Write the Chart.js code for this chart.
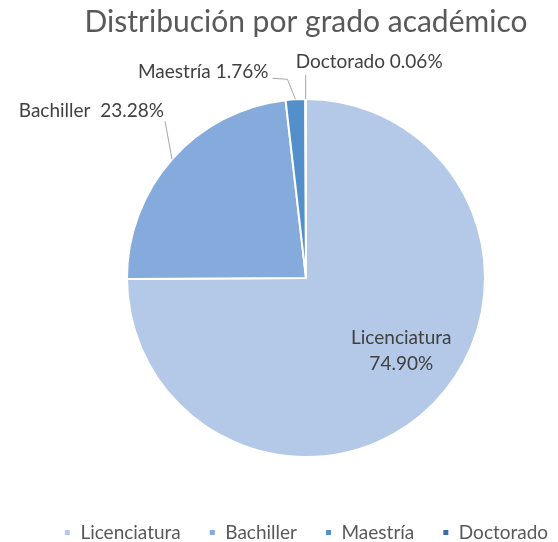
<!DOCTYPE html>
<html>
<head>
<meta charset="utf-8">
<script src="https://cdn.jsdelivr.net/npm/chart.js@4.4.1/dist/chart.umd.min.js"></script>
<style>
  html, body { margin: 0; padding: 0; background: #fff; overflow: hidden; }
  #wrap { width: 612px; height: 542px; }
</style>
</head>
<body>
<div id="wrap"><canvas id="gradoChart"></canvas></div>
<script>
// Datos del grafico
const categories = ['Licenciatura', 'Bachiller', 'Maestría', 'Doctorado'];
const percentages = [74.90, 23.28, 1.76, 0.06];
const sliceColors = ['#B4C8E7', '#84ABDB', '#5390CB', '#3A6EA8'];

const fontFamily = 'Lato, "Liberation Sans", sans-serif';

// Etiquetas de datos con lineas guia
const sliceLabels = {
    id: 'sliceLabels',
    afterDatasetsDraw(chart) {
        const ctx = chart.ctx;
        const arcs = chart.getDatasetMeta(0).data;
        ctx.save();
        ctx.font = '19px ' + fontFamily;
        ctx.fillStyle = '#404040';
        ctx.strokeStyle = '#A6A6A6';
        ctx.lineWidth = 1;
        arcs.forEach((arc, i) => {
            const p = arc.getProps(['x', 'y', 'startAngle', 'endAngle', 'outerRadius'], true);
            const mid = (p.startAngle + p.endAngle) / 2;
            const ax = p.x + Math.cos(mid) * p.outerRadius;
            const ay = p.y + Math.sin(mid) * p.outerRadius;
            const pct = percentages[i].toFixed(2) + '%';
            if (i === 0) {
                const r = p.outerRadius * 0.64;
                const cx = p.x + Math.cos(mid) * r + 14;
                const cy = p.y + Math.sin(mid) * r - 8;
                ctx.textAlign = 'center';
                ctx.textBaseline = 'middle';
                ctx.fillText(categories[i], cx, cy - 13);
                ctx.fillText(pct, cx, cy + 13);
            } else if (i === 1) {
                const ex = ax - 7, ey = ay - 38;
                ctx.beginPath();
                ctx.moveTo(ax, ay);
                ctx.lineTo(ex, ey);
                ctx.stroke();
                ctx.textAlign = 'right';
                ctx.textBaseline = 'middle';
                ctx.fillText(categories[i] + '  ' + pct, ex - 1, ey - 10);
            } else if (i === 2) {
                const e1x = ax - 8, e1y = ay - 20;
                const e2x = e1x - 15, e2y = e1y - 1;
                ctx.beginPath();
                ctx.moveTo(ax, ay);
                ctx.lineTo(e1x, e1y);
                ctx.lineTo(e2x, e2y);
                ctx.stroke();
                ctx.textAlign = 'right';
                ctx.textBaseline = 'middle';
                ctx.fillText(categories[i] + ' ' + pct, e2x - 4, e2y - 6);
            } else {
                const ex = ax, ey = ay - 24;
                ctx.beginPath();
                ctx.moveTo(ax, ay);
                ctx.lineTo(ex, ey);
                ctx.stroke();
                ctx.textAlign = 'left';
                ctx.textBaseline = 'middle';
                ctx.fillText(categories[i] + ' ' + pct, ex - 10, ey - 13);
            }
        });
        ctx.restore();
    }
};

const ctx = document.getElementById('gradoChart').getContext('2d');
const gradoChart = new Chart(ctx, {
    type: 'pie',
    data: {
        labels: categories,
        datasets: [{
            data: percentages,
            backgroundColor: sliceColors,
            borderColor: '#ffffff',
            borderWidth: 2
        }]
    },
    options: {
        responsive: true,
        maintainAspectRatio: false,
        animation: false,
        layout: { padding: { top: 0, bottom: -10, left: 0, right: 0 } },
        plugins: {
            title: {
                display: true,
                text: 'Distribución por grado académico',
                color: '#595959',
                font: { family: fontFamily, size: 30, weight: 'normal' },
                padding: { top: 4, bottom: 58 }
            },
            // espacio vacio entre el pastel y la leyenda
            subtitle: {
                display: true,
                position: 'bottom',
                weight: 500,
                text: '',
                font: { size: 10 },
                padding: { top: 0, bottom: 25 }
            },
            legend: {
                position: 'bottom',
                labels: {
                    color: '#595959',
                    font: { family: fontFamily, size: 19 },
                    usePointStyle: true,
                    pointStyle: 'rect',
                    boxWidth: 7,
                    boxHeight: 7,
                    padding: 28
                }
            },
            tooltip: { enabled: false }
        }
    },
    plugins: [sliceLabels]
});
</script>
</body>
</html>
